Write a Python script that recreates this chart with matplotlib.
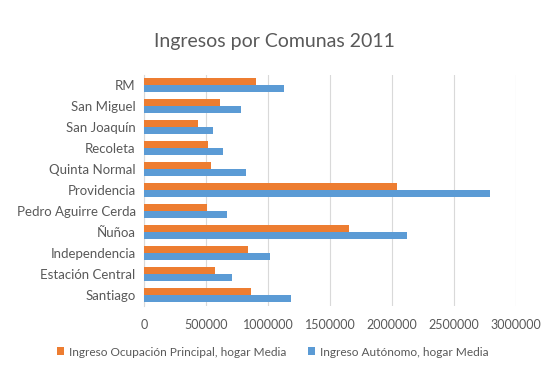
import matplotlib
matplotlib.use("Agg")
import matplotlib.pyplot as plt
import numpy as np

# datos (de abajo hacia arriba)
comunas = ["Santiago", "Estación Central", "Independencia", "Ñuñoa",
           "Pedro Aguirre Cerda", "Providencia", "Quinta Normal", "Recoleta",
           "San Joaquín", "San Miguel", "RM"]
ocupacion = [865000, 573000, 836000, 1656000, 506000, 2040000, 538000, 519000,
             438000, 613000, 900000]
autonomo = [1185000, 712000, 1019000, 2123000, 672000, 2790000, 820000, 640000,
            554000, 782000, 1131000]
ticks = [0, 500000, 1000000, 1500000, 2000000, 2500000, 3000000]

NARANJA = "#ED7D31"
AZUL = "#5B9BD5"
GRIS = "#595959"

plt.rcParams["font.family"] = ["Lato", "DejaVu Sans"]

fig = plt.figure(figsize=(5.49, 3.81), dpi=100)
ax = fig.add_axes([144 / 549, 1 - 305.5 / 381, (516 - 144) / 549, 231 / 381])

y = np.arange(len(comunas))
h = 0.33
ax.barh(y + h / 2, ocupacion, height=h, color=NARANJA,
        label="Ingreso Ocupación Principal, hogar Media", zorder=3)
ax.barh(y - h / 2, autonomo, height=h, color=AZUL,
        label="Ingreso Autónomo, hogar Media", zorder=3)

ax.set_xlim(0, 3000000)
ax.set_ylim(-0.5, len(comunas) - 0.5)
ax.set_xticks(ticks)
ax.set_xticklabels([str(t) for t in ticks])
ax.set_yticks(y)
ax.set_yticklabels(comunas)
ax.tick_params(axis="both", length=0, colors=GRIS)
ax.tick_params(axis="x", pad=10, labelsize=9)
ax.tick_params(axis="y", pad=6, labelsize=9.5)
ax.grid(axis="x", color="#D9D9D9", linewidth=0.8, zorder=0)
for s in ["top", "right", "bottom"]:
    ax.spines[s].set_visible(False)
ax.spines["left"].set_color("#D9D9D9")

fig.text(0.5, 1 - 42 / 381, "Ingresos por Comunas 2011", ha="center",
         va="center", fontsize=14, color=GRIS)

fig.legend(loc="center", bbox_to_anchor=(0.497, 1 - 352 / 381), ncol=2,
           frameon=False, fontsize=8.6, labelcolor=GRIS, handlelength=0.6,
           handleheight=0.6, handletextpad=0.4, columnspacing=1.8)

fig.savefig("out.png", dpi=100)
